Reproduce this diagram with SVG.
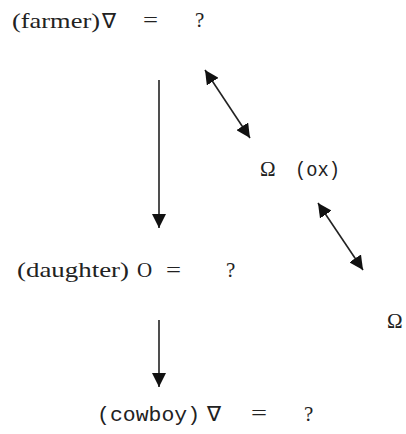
<svg xmlns="http://www.w3.org/2000/svg" width="406" height="434" viewBox="0 0 406 434">
<style>
.t{font-family:"Liberation Serif","Times New Roman",serif;font-size:21px;fill:#222}
.m{font-family:"Liberation Mono","Courier New",monospace;font-size:20px;fill:#222}
.c{stroke:#222;stroke-width:1.6;fill:none}
</style>
<defs>
<marker id="ah2" viewBox="0 0 10 10" refX="10" refY="5" markerWidth="14" markerHeight="14" markerUnits="userSpaceOnUse" orient="auto-start-reverse">
<path d="M0,0 L10,5 L0,10 z" fill="#111"/>
</marker>
</defs>
<rect width="406" height="434" fill="#fff"/>
<g id="connectors">
<line class="c" x1="159" y1="80" x2="159" y2="228" marker-end="url(#ah2)"/>
<line class="c" x1="159" y1="320" x2="159" y2="387" marker-end="url(#ah2)"/>
<line class="c" x1="205" y1="70" x2="250" y2="138" marker-start="url(#ah2)" marker-end="url(#ah2)"/>
<line class="c" x1="318" y1="203" x2="363" y2="270" marker-start="url(#ah2)" marker-end="url(#ah2)"/>
</g>
<g id="farmer">
<text class="t" x="12" y="28" textLength="88" lengthAdjust="spacingAndGlyphs">(farmer)</text>
<text class="t" x="102" y="28">∇</text>
<text class="t" x="143" y="27" textLength="15" lengthAdjust="spacingAndGlyphs">=</text>
<text class="t" x="195" y="27">?</text>
</g>
<g id="ox">
<text class="t" x="260" y="176">Ω</text>
<text class="m" x="295" y="176" textLength="45" lengthAdjust="spacingAndGlyphs">(ox)</text>
</g>
<g id="daughter">
<text class="t" x="17" y="277" textLength="112" lengthAdjust="spacingAndGlyphs">(daughter)</text>
<text class="t" x="137" y="277">O</text>
<text class="t" x="166" y="277" textLength="15" lengthAdjust="spacingAndGlyphs">=</text>
<text class="t" x="226" y="277">?</text>
</g>
<g id="omega2">
<text class="t" x="387" y="328">Ω</text>
</g>
<g id="cowboy">
<text class="m" x="97" y="421" textLength="103" lengthAdjust="spacingAndGlyphs">(cowboy)</text>
<text class="t" x="207" y="421">∇</text>
<text class="t" x="251" y="420" textLength="16" lengthAdjust="spacingAndGlyphs">=</text>
<text class="t" x="304" y="421">?</text>
</g>
</svg>
